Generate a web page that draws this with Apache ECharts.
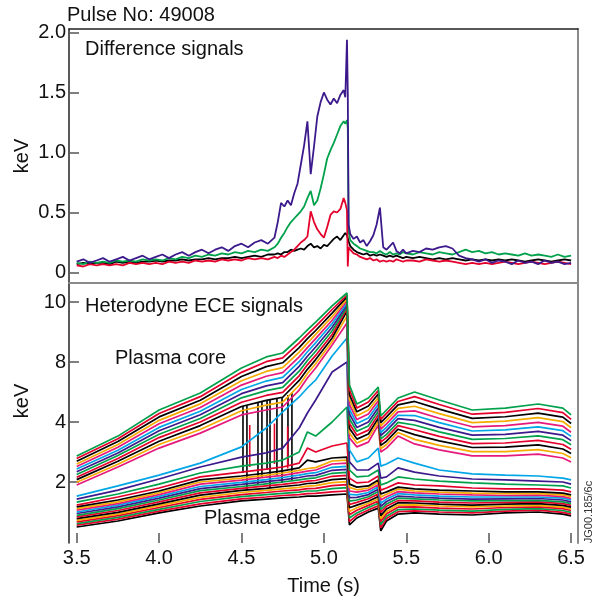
<!DOCTYPE html>
<html><head><meta charset="utf-8">
<script src="https://cdn.jsdelivr.net/npm/echarts@6/dist/echarts.min.js"></script>
<style>html,body{margin:0;padding:0;background:#fff}#c{width:592px;height:600px}</style>
</head><body><div id="c"></div>
<script>
// ---------- Top panel: difference signals (keV) ----------
const tTop = [3.50,3.54,3.58,3.62,3.66,3.70,3.74,3.78,3.82,3.86,3.90,3.94,3.98,4.02,4.06,4.10,4.14,4.18,4.22,4.26,4.30,4.34,4.38,4.42,4.46,4.50,4.54,4.58,4.62,4.66,4.70,
 4.72,4.74,4.76,4.78,4.80,4.82,4.84,4.86,4.88,4.90,4.92,4.94,4.96,4.98,5.00,5.02,5.04,5.06,5.08,5.10,5.12,
 5.13,5.14,5.145,5.15,5.16,
 5.18,5.20,5.22,5.24,5.26,5.28,5.30,5.32,5.34,5.36,5.38,5.40,5.42,5.44,5.46,5.48,5.50,
 5.54,5.58,5.62,5.66,5.70,5.74,5.78,5.82,5.86,5.90,5.94,5.98,6.02,6.06,6.10,6.14,6.18,6.22,6.26,6.30,6.34,6.38,6.42,6.46,6.50];
const diffPurple = [0.09,0.11,0.08,0.10,0.12,0.09,0.11,0.13,0.10,0.12,0.14,0.11,0.13,0.15,0.12,0.15,0.17,0.14,0.17,0.19,0.16,0.19,0.21,0.18,0.22,0.24,0.21,0.25,0.27,0.24,0.29,
 0.42,0.58,0.55,0.60,0.56,0.66,0.74,0.90,1.06,1.26,0.82,1.05,1.30,1.42,1.50,1.44,1.40,1.45,1.41,1.48,1.52,
 1.46,1.94,1.50,0.40,0.32,
 0.28,0.30,0.25,0.27,0.22,0.26,0.31,0.40,0.54,0.21,0.19,0.22,0.25,0.18,0.16,0.19,0.16,
 0.18,0.17,0.20,0.19,0.21,0.22,0.20,0.14,0.12,0.11,0.09,0.11,0.08,0.10,0.09,0.07,0.10,0.08,0.09,0.07,0.10,0.08,0.09,0.07,0.08];
const diffGreen = [0.08,0.07,0.09,0.08,0.09,0.08,0.10,0.09,0.10,0.09,0.11,0.10,0.11,0.10,0.12,0.11,0.13,0.12,0.14,0.13,0.15,0.14,0.16,0.15,0.17,0.16,0.18,0.17,0.19,0.18,0.21,
 0.24,0.29,0.33,0.38,0.42,0.45,0.48,0.51,0.55,0.62,0.68,0.56,0.60,0.70,0.82,0.95,1.02,1.08,1.15,1.22,1.26,
 1.24,1.27,1.20,0.34,0.27,
 0.24,0.22,0.20,0.19,0.18,0.17,0.17,0.16,0.18,0.16,0.15,0.17,0.15,0.16,0.15,0.17,0.16,
 0.15,0.17,0.16,0.15,0.17,0.16,0.15,0.17,0.19,0.17,0.18,0.16,0.17,0.15,0.16,0.15,0.14,0.16,0.14,0.15,0.14,0.13,0.15,0.13,0.14];
const diffRed = [0.06,0.05,0.07,0.06,0.07,0.06,0.07,0.06,0.08,0.07,0.08,0.07,0.08,0.07,0.09,0.08,0.09,0.08,0.10,0.09,0.10,0.09,0.11,0.10,0.11,0.10,0.12,0.11,0.12,0.11,0.13,
 0.12,0.14,0.13,0.15,0.17,0.19,0.22,0.25,0.27,0.30,0.51,0.42,0.36,0.32,0.29,0.38,0.48,0.51,0.50,0.53,0.62,
 0.58,0.52,0.05,0.21,0.19,
 0.16,0.15,0.13,0.12,0.11,0.12,0.10,0.11,0.09,0.10,0.09,0.10,0.09,0.11,0.10,0.09,0.10,
 0.10,0.09,0.11,0.10,0.09,0.10,0.09,0.08,0.07,0.08,0.07,0.08,0.07,0.08,0.09,0.08,0.07,0.08,0.09,0.08,0.07,0.08,0.09,0.08,0.07];
const diffBlack = [0.07,0.08,0.07,0.08,0.08,0.07,0.09,0.08,0.09,0.08,0.09,0.09,0.10,0.09,0.10,0.10,0.11,0.10,0.11,0.11,0.12,0.11,0.12,0.12,0.13,0.12,0.13,0.14,0.13,0.15,0.15,
 0.16,0.15,0.17,0.17,0.19,0.18,0.19,0.20,0.19,0.22,0.24,0.21,0.22,0.20,0.23,0.22,0.25,0.28,0.30,0.27,0.31,
 0.33,0.31,0.30,0.26,0.22,
 0.19,0.17,0.16,0.15,0.16,0.14,0.15,0.14,0.15,0.14,0.13,0.14,0.13,0.14,0.13,0.12,0.13,
 0.12,0.13,0.12,0.11,0.12,0.11,0.12,0.11,0.10,0.11,0.10,0.11,0.10,0.11,0.10,0.11,0.10,0.09,0.10,0.11,0.10,0.09,0.10,0.11,0.10];

// ---------- Bottom panel: heterodyne ECE channels (keV), core -> edge ----------
const tEce = [3.5,3.75,4.0,4.25,4.5,4.65,4.75,4.85,4.9,4.95,5.05,5.14,5.155,5.2,5.27,5.33,5.345,5.38,5.45,5.55,5.7,5.9,6.1,6.3,6.45,6.5];
const ece01 = [2.87,3.53,4.80,5.93,7.60,8.17,8.30,8.80,9.07,9.33,9.87,10.30,6.47,5.20,5.60,6.33,4.40,4.80,5.60,6.00,5.47,4.80,4.93,5.20,4.93,4.47];
const ece02 = [2.78,3.44,4.57,5.69,7.31,8.01,8.14,8.64,8.92,9.19,9.75,10.23,6.15,4.94,5.33,6.10,4.18,4.57,5.37,5.69,5.17,4.52,4.64,4.90,4.63,4.18];
const ece03 = [2.69,3.35,4.34,5.45,7.03,7.69,7.95,8.48,8.78,9.05,9.63,10.17,5.83,4.68,5.07,5.87,3.98,4.34,5.14,5.37,4.86,4.24,4.35,4.59,4.33,3.95];
const ece04 = [2.60,3.25,4.11,5.21,6.75,7.37,7.62,8.33,8.63,8.92,9.51,10.10,5.50,4.42,4.80,5.64,3.87,4.11,4.91,5.05,4.56,3.98,4.06,4.29,4.03,3.81];
const ece05 = [2.52,3.16,3.94,4.97,6.46,7.05,7.29,8.17,8.48,8.78,9.39,10.03,5.18,4.16,4.53,5.41,3.76,3.94,4.68,4.74,4.25,3.84,3.88,3.99,3.86,3.66];
const ece06 = [2.43,3.06,3.82,4.72,6.17,6.73,6.97,8.01,8.34,8.64,9.28,9.97,4.86,3.95,4.27,5.18,3.65,3.82,4.45,4.43,3.98,3.70,3.74,3.84,3.71,3.52];
const ece07 = [2.34,2.97,3.71,4.48,5.89,6.41,6.63,7.71,8.19,8.50,9.16,9.90,4.54,3.82,4.00,4.95,3.55,3.71,4.22,4.11,3.82,3.56,3.59,3.69,3.56,3.38];
const ece08 = [2.25,2.88,3.59,4.23,5.61,6.09,6.31,7.39,8.05,8.36,9.04,9.83,4.22,3.69,3.87,4.72,3.44,3.59,3.99,3.90,3.67,3.42,3.45,3.54,3.41,3.24];
const ece09 = [2.16,2.78,3.48,4.00,5.32,5.77,5.98,7.08,7.81,8.22,8.92,9.77,3.95,3.56,3.73,4.49,3.33,3.48,3.88,3.74,3.52,3.28,3.30,3.39,3.25,3.09];
const ece10 = [2.08,2.69,3.36,3.88,5.03,5.44,5.65,6.77,7.51,8.08,8.80,9.70,3.79,3.43,3.60,4.26,3.22,3.36,3.76,3.58,3.37,3.15,3.16,3.24,3.10,2.95];
const ece11 = [1.99,2.59,3.25,3.75,4.75,5.12,5.33,6.45,7.23,7.88,8.68,9.53,3.63,3.30,3.47,4.03,3.11,3.25,3.65,3.42,3.22,3.01,3.01,3.08,2.95,2.81];
const ece12 = [1.90,2.50,3.13,3.63,4.47,4.80,5.00,6.13,6.93,7.60,8.57,9.30,3.47,3.17,3.33,3.90,3.00,3.13,3.53,3.27,3.07,2.87,2.87,2.93,2.80,2.67];
const ece13 = [1.53,1.87,2.23,2.63,3.17,3.80,4.67,5.67,6.27,6.80,8.20,8.80,3.07,2.67,2.80,3.13,2.53,2.60,2.80,2.63,2.40,2.27,2.23,2.20,2.13,2.07];
const ece14 = [1.43,1.73,2.10,2.50,2.83,2.97,3.13,3.80,4.60,5.47,7.33,8.00,2.67,2.40,2.40,2.63,2.13,2.17,2.47,2.33,2.20,2.10,2.07,2.03,2.00,1.93];
const ece15 = [1.33,1.60,1.93,2.30,2.53,2.63,2.73,3.00,3.67,3.53,4.00,5.00,2.40,2.17,2.20,2.40,1.90,1.97,2.17,2.10,2.03,1.97,1.93,1.90,1.87,1.80];
const ece16 = [1.23,1.50,1.80,2.17,2.33,2.43,2.50,2.63,3.13,3.00,3.20,3.30,2.13,1.97,2.00,2.20,1.73,1.80,1.97,1.90,1.87,1.80,1.77,1.77,1.73,1.67];
const ece17 = [1.17,1.40,1.70,2.07,2.20,2.30,2.37,2.47,2.73,2.67,2.80,2.83,1.93,1.83,1.87,2.07,1.60,1.67,1.83,1.77,1.73,1.70,1.67,1.67,1.63,1.57];
const ece18 = [1.11,1.34,1.64,2.00,2.13,2.23,2.30,2.39,2.45,2.48,2.70,2.73,1.82,1.74,1.80,1.99,1.50,1.59,1.76,1.70,1.66,1.63,1.61,1.61,1.57,1.51];
const ece19 = [1.06,1.28,1.58,1.93,2.06,2.16,2.22,2.31,2.36,2.40,2.60,2.63,1.70,1.66,1.73,1.91,1.40,1.51,1.68,1.64,1.60,1.57,1.55,1.56,1.51,1.45];
const ece20 = [1.00,1.23,1.52,1.85,1.99,2.08,2.15,2.23,2.28,2.31,2.49,2.52,1.59,1.57,1.65,1.84,1.29,1.43,1.61,1.57,1.53,1.50,1.50,1.50,1.46,1.40];
const ece21 = [0.95,1.17,1.46,1.78,1.92,2.01,2.07,2.15,2.20,2.22,2.39,2.42,1.48,1.49,1.58,1.76,1.19,1.35,1.53,1.50,1.46,1.43,1.44,1.45,1.40,1.34];
const ece22 = [0.89,1.11,1.40,1.71,1.85,1.94,2.00,2.07,2.11,2.14,2.29,2.32,1.36,1.40,1.51,1.68,1.09,1.27,1.46,1.44,1.40,1.37,1.38,1.39,1.34,1.28];
const ece23 = [0.84,1.05,1.34,1.64,1.79,1.87,1.92,1.99,2.03,2.05,2.19,2.22,1.25,1.32,1.44,1.60,0.99,1.19,1.38,1.37,1.33,1.30,1.32,1.34,1.28,1.22];
const ece24 = [0.78,0.99,1.27,1.56,1.72,1.79,1.85,1.90,1.95,1.96,2.08,2.11,1.14,1.23,1.36,1.52,0.88,1.10,1.31,1.30,1.26,1.23,1.26,1.28,1.22,1.16];
const ece25 = [0.72,0.93,1.21,1.49,1.65,1.72,1.77,1.82,1.86,1.88,1.98,2.01,1.02,1.14,1.29,1.44,0.78,1.02,1.23,1.24,1.20,1.17,1.20,1.22,1.16,1.10];
const ece26 = [0.67,0.88,1.15,1.42,1.58,1.65,1.70,1.74,1.78,1.79,1.88,1.91,0.91,1.06,1.22,1.37,0.68,0.94,1.16,1.17,1.13,1.10,1.15,1.17,1.11,1.05];
const ece27 = [0.61,0.82,1.09,1.35,1.51,1.58,1.62,1.66,1.70,1.70,1.78,1.81,0.80,0.97,1.15,1.29,0.58,0.86,1.08,1.10,1.06,1.03,1.09,1.11,1.05,0.99];
const ece28 = [0.56,0.76,1.03,1.27,1.44,1.50,1.55,1.58,1.61,1.62,1.67,1.70,0.68,0.89,1.07,1.21,0.47,0.78,1.01,1.04,1.00,0.97,1.03,1.06,0.99,0.93];
const ece29 = [0.50,0.70,0.97,1.20,1.37,1.43,1.47,1.50,1.53,1.53,1.57,1.60,0.57,0.80,1.00,1.13,0.37,0.70,0.93,0.97,0.93,0.90,0.97,1.00,0.93,0.87];

// short spikes on two channels during 4.5-4.8 s (keV: from, to)
const spikeBlackT    = [4.509,4.533,4.600,4.624,4.655,4.673,4.715,4.746,4.782,4.806];
const spikeBlackHigh = [5.05,5.12,5.30,5.36,5.44,5.48,5.56,5.64,5.80,5.95];
const spikeBlackLow  = [2.30,1.73,1.90,2.13,2.40,1.80,2.23,1.97,2.57,2.07];
const spikeRedT      = [4.55,4.70,4.78];
const spikeRedHigh   = [3.90,3.95,3.85];
const spikeRedLow    = [2.50,2.60,2.45];

const xTicks = [3.5,4.0,4.5,5.0,5.5,6.0,6.5];
const topTicks = [0,0.5,1.0,1.5,2.0];
const eceTicks = [2,4,8,10];

// colours
const G='#00a14b', R='#e4002b', K='#000000', O='#f6ab00', P='#e6197c', C='#00a6e6', V='#3c1a8c';
const eceSeries = [ece01,ece02,ece03,ece04,ece05,ece06,ece07,ece08,ece09,ece10,ece11,ece12,
  ece13,ece14,ece15,ece16,ece17,ece18,ece19,ece20,ece21,ece22,ece23,ece24,ece25,ece26,ece27,ece28,ece29];
const eceColors = [G,R,K,O,P,C,V,G,R,K,O,P, C,V,G,R,K,O,P,C,V,G,R,K,O,R,G,R,K];

// the printed ECE axis is non-linear: 2,4,8,10 keV equally spaced
function toAxis(v){ if(v<=4) return v/2; if(v<=8) return 2+(v-4)/4; return 3+(v-8)/2; }
const eceTickPos = eceTicks.map(toAxis);

const XMIN=3.4533, XMAX=6.5419;
const FONT='"Liberation Sans", Arial, sans-serif';
const FS=20;

const series=[];
function topLine(vals,color){
  series.push({type:'line',xAxisIndex:0,yAxisIndex:0,showSymbol:false,silent:true,
    data:tTop.map((t,i)=>[t,vals[i]]),lineStyle:{color,width:1.8},z:3});
}
topLine(diffBlack,K); topLine(diffGreen,G); topLine(diffRed,R); topLine(diffPurple,V);
function spikes(ts,hi,lo,color){
  const d=[];
  ts.forEach((t,i)=>{d.push([t,toAxis(hi[i])]);d.push([t,toAxis(lo[i])]);d.push([t,'-']);});
  series.push({type:'line',xAxisIndex:2,yAxisIndex:2,showSymbol:false,silent:true,connectNulls:false,
    data:d,lineStyle:{color,width:1.6},z:3});
}
spikes(spikeBlackT,spikeBlackHigh,spikeBlackLow,K);
spikes(spikeRedT,spikeRedHigh,spikeRedLow,R);
for(let i=eceSeries.length-1;i>=0;i--){
  const vals=eceSeries[i];
  series.push({type:'line',xAxisIndex:2,yAxisIndex:2,showSymbol:false,silent:true,
    data:tEce.map((t,k)=>[t,toAxis(vals[k])]),lineStyle:{color:eceColors[i],width:1.7},z:3});
}

const chart=echarts.init(document.getElementById('c'),null,{renderer:'canvas'});
const lab={fontFamily:FONT,fontSize:FS,color:'#111'};
chart.setOption({
  animation:false,
  textStyle:{fontFamily:FONT},
  grid:[{left:69,top:29,width:509,height:254},{left:69,top:283,width:509,height:260}],
  xAxis:[
    {gridIndex:0,type:'value',min:XMIN,max:XMAX,position:'bottom',
      axisLine:{show:true,onZero:false,lineStyle:{color:'#8a8a8a',width:2}},axisTick:{show:false},axisLabel:{show:false},splitLine:{show:false}},
    {gridIndex:0,type:'value',min:XMIN,max:XMAX,position:'top',
      axisLine:{show:true,onZero:false,lineStyle:{color:'#222',width:1.5}},axisTick:{show:false},axisLabel:{show:false},splitLine:{show:false}},
    {gridIndex:1,type:'value',min:XMIN,max:XMAX,position:'bottom',
      axisLine:{show:false,onZero:false},
      axisTick:{show:true,inside:true,length:10,customValues:xTicks,lineStyle:{color:'#555',width:1.5}},
      axisLabel:Object.assign({customValues:xTicks,margin:5,formatter:v=>v.toFixed(1)},lab),
      splitLine:{show:false},
      name:'Time (s)',nameLocation:'middle',nameGap:33,nameTextStyle:lab}
  ],
  yAxis:[
    {gridIndex:0,type:'value',min:-0.0875,max:2.029,position:'left',
      axisLine:{show:true,onZero:false,lineStyle:{color:'#222',width:1.5}},
      axisTick:{show:true,inside:true,length:10,customValues:topTicks,lineStyle:{color:'#555',width:1.5}},
      axisLabel:Object.assign({customValues:topTicks,margin:3,formatter:v=>v===0?'0':v.toFixed(1)},lab),
      splitLine:{show:false}},
    {gridIndex:0,type:'value',min:0,max:1,position:'right',
      axisLine:{show:true,onZero:false,lineStyle:{color:'#8a8a8a',width:2}},axisTick:{show:false},axisLabel:{show:false},splitLine:{show:false}},
    {gridIndex:1,type:'value',min:-0.0167,max:4.3167,position:'left',
      axisLine:{show:true,onZero:false,lineStyle:{color:'#222',width:1.5}},
      axisTick:{show:true,inside:true,length:10,customValues:eceTickPos,lineStyle:{color:'#555',width:1.5}},
      axisLabel:Object.assign({customValues:eceTickPos,margin:3,
        formatter:v=>{const i=eceTickPos.findIndex(p=>Math.abs(p-v)<1e-6);return i>=0?String(eceTicks[i]):'';}},lab),
      splitLine:{show:false}},
    {gridIndex:1,type:'value',min:0,max:1,position:'right',
      axisLine:{show:true,onZero:false,lineStyle:{color:'#8a8a8a',width:2}},axisTick:{show:false},axisLabel:{show:false},splitLine:{show:false}}
  ],
  graphic:[
    {type:'text',left:67,top:5,style:{text:'Pulse No: 49008',font:FS+'px '+FONT,fill:'#111'}},
    {type:'text',left:85,top:39,style:{text:'Difference signals',font:FS+'px '+FONT,fill:'#111'}},
    {type:'text',left:85,top:296,style:{text:'Heterodyne ECE signals',font:FS+'px '+FONT,fill:'#111'}},
    {type:'text',left:115,top:348,style:{text:'Plasma core',font:FS+'px '+FONT,fill:'#111'}},
    {type:'text',left:204,top:508,style:{text:'Plasma edge',font:FS+'px '+FONT,fill:'#111'}},
    {type:'text',x:22,y:156,rotation:Math.PI/2,
      style:{text:'keV',font:FS+'px '+FONT,fill:'#111',align:'center',verticalAlign:'middle',textAlign:'center',textVerticalAlign:'middle'}},
    {type:'text',x:22,y:401,rotation:Math.PI/2,
      style:{text:'keV',font:FS+'px '+FONT,fill:'#111',align:'center',verticalAlign:'middle',textAlign:'center',textVerticalAlign:'middle'}},
    {type:'text',x:589,y:512,rotation:Math.PI/2,
      style:{text:'JG00.185/6c',font:'11px '+FONT,fill:'#333',align:'center',verticalAlign:'middle',textAlign:'center',textVerticalAlign:'middle'}}
  ],
  series
});
</script></body></html>
